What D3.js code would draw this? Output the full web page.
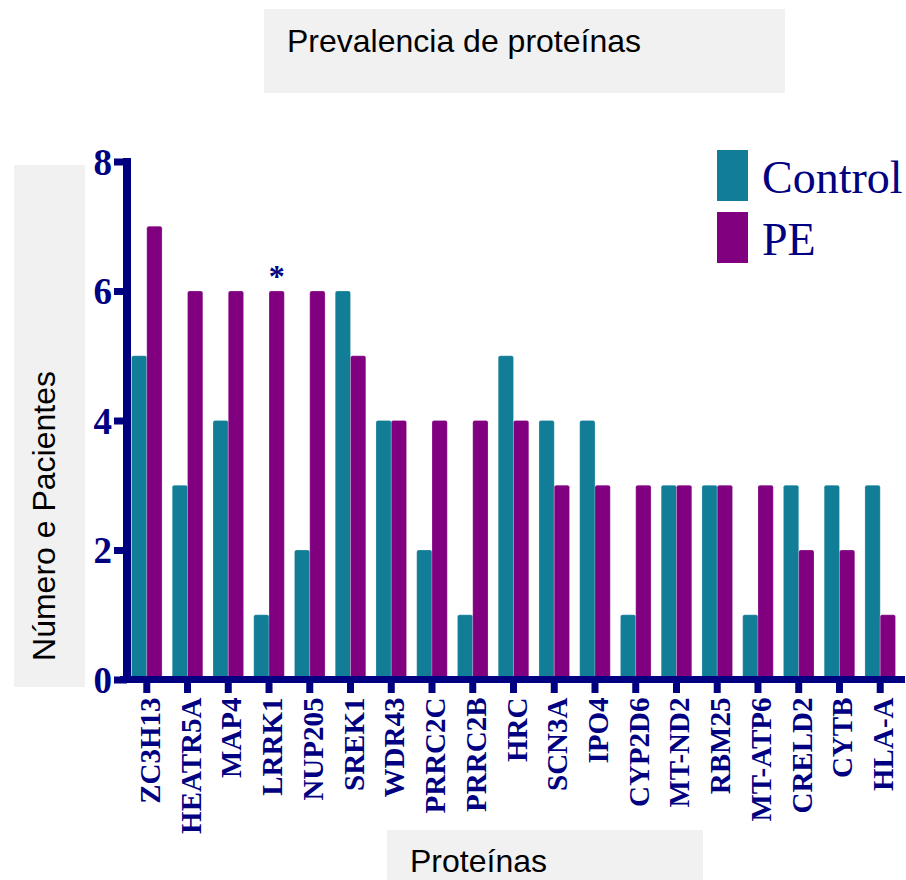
<!DOCTYPE html>
<html>
<head>
<meta charset="utf-8">
<script src="https://cdn.jsdelivr.net/npm/d3@7"></script>
<style>
  body { margin: 0; background: #fff; }
  svg { display: block; }
</style>
</head>
<body>
<div id="chart"></div>
<script>
// datos
const proteinas = ["ZC3H13", "HEATR5A", "MAP4", "LRRK1", "NUP205", "SREK1", "WDR43", "PRRC2C", "PRRC2B", "HRC",
  "SCN3A", "IPO4", "CYP2D6", "MT-ND2", "RBM25", "MT-ATP6", "CRELD2", "CYTB", "HLA-A"];
const control = [5, 3, 4, 1, 2, 6, 4, 2, 1, 5, 4, 4, 1, 3, 3, 1, 3, 3, 3];
const pe = [7, 6, 6, 6, 6, 5, 4, 4, 4, 4, 3, 3, 3, 3, 3, 3, 2, 2, 1];
const grupos = ["Control", "PE"];
const yTicks = [0, 2, 4, 6, 8];
const significativos = ["LRRK1"]; // asterisco sobre PE

const width = 906, height = 880;
const navy = "#000080";
const colores = { Control: "#127d96", PE: "#800080" };
const serif = "'Liberation Serif', 'Times New Roman', serif";
const sans = "'Liberation Sans', Arial, sans-serif";

const svg = d3.select("#chart").append("svg")
  .attr("width", width)
  .attr("height", height);

// escalas
const x = d3.scaleBand().domain(proteinas).range([128, 899]).paddingInner(0.25).paddingOuter(0.086);
const xSub = d3.scaleBand().domain(grupos).range([0, x.bandwidth()]);
const y = d3.scaleLinear().domain([0, 8]).range([679.5, 161.5]);

// cajas de títulos
svg.append("rect").attr("x", 264).attr("y", 9).attr("width", 521).attr("height", 84).attr("fill", "#f1f1f1");
svg.append("text").attr("x", 287).attr("y", 52).text("Prevalencia de proteínas")
  .attr("font-family", sans).attr("font-size", "32px").attr("fill", "#000");

svg.append("rect").attr("x", 14).attr("y", 165).attr("width", 71).attr("height", 522).attr("fill", "#f1f1f1");
svg.append("text")
  .attr("transform", "translate(55, 516) rotate(-90)")
  .attr("text-anchor", "middle")
  .text("Número e Pacientes")
  .attr("font-family", sans).attr("font-size", "32px").attr("fill", "#000");

svg.append("rect").attr("x", 387).attr("y", 830).attr("width", 316).attr("height", 50).attr("fill", "#f1f1f1");
svg.append("text").attr("x", 410).attr("y", 872).text("Proteínas")
  .attr("font-family", sans).attr("font-size", "32px").attr("fill", "#000");

// barras
const grupo = svg.append("g").selectAll("g")
  .data(proteinas.map((p, i) => ({ p, vals: [control[i], pe[i]] })))
  .join("g")
  .attr("transform", (d) => `translate(${x(d.p)},0)`);

grupo.selectAll("rect")
  .data((d) => grupos.map((g, j) => ({ g, v: d.vals[j] })))
  .join("rect")
  .attr("x", (d) => xSub(d.g))
  .attr("width", xSub.bandwidth())
  .attr("y", (d) => y(d.v))
  .attr("height", (d) => y(0) - y(d.v))
  .attr("rx", 2)
  .attr("fill", (d) => colores[d.g])
  .attr("stroke", "#ffffff")
  .attr("stroke-opacity", 0.35)
  .attr("stroke-width", 0.6);

// asterisco
svg.append("g").selectAll("text")
  .data(significativos)
  .join("text")
  .attr("x", (d) => x(d) + xSub("PE") + xSub.bandwidth() / 2)
  .attr("y", (d) => y(pe[proteinas.indexOf(d)]) - 4)
  .attr("text-anchor", "middle")
  .attr("font-family", serif)
  .attr("font-weight", "bold")
  .attr("font-size", "32px")
  .attr("fill", navy)
  .text("*");

// eje Y
const yAxis = svg.append("g")
  .attr("transform", "translate(127,0)")
  .call(d3.axisLeft(y).tickValues(yTicks).tickFormat(d3.format("d")).tickSize(13).tickPadding(2).tickSizeOuter(0));
yAxis.select(".domain").remove();
yAxis.append("line")
  .attr("x1", 0).attr("x2", 0)
  .attr("y1", y(8) - 3.5).attr("y2", y(0) + 3.5)
  .attr("stroke", navy).attr("stroke-width", 8);
yAxis.selectAll(".tick line").attr("stroke", navy).attr("stroke-width", 7);
yAxis.selectAll(".tick text")
  .attr("fill", navy)
  .attr("font-family", serif)
  .attr("font-weight", "bold")
  .attr("font-size", "37px")
  .attr("dy", "0.34em");

// eje X
const xAxis = svg.append("g")
  .attr("transform", `translate(0,${y(0)})`)
  .call(d3.axisBottom(x).tickSize(13.5).tickSizeOuter(0));
xAxis.select(".domain").remove();
xAxis.append("line")
  .attr("x1", 120).attr("x2", 905)
  .attr("y1", 0).attr("y2", 0)
  .attr("stroke", navy).attr("stroke-width", 7);
xAxis.selectAll(".tick line").attr("stroke", navy).attr("stroke-width", 7);
xAxis.selectAll(".tick text")
  .attr("fill", navy)
  .attr("font-family", serif)
  .attr("font-weight", "bold")
  .attr("font-size", "29px")
  .attr("text-anchor", "end")
  .attr("y", 0)
  .attr("dy", 0)
  .attr("transform", "translate(13, 18) rotate(-90)");

// leyenda
const leyenda = svg.append("g").selectAll("g")
  .data(grupos)
  .join("g")
  .attr("transform", (d, i) => `translate(717,${150 + i * 62})`);
leyenda.append("rect")
  .attr("width", 31).attr("height", 51)
  .attr("fill", (d) => colores[d]);
leyenda.append("text")
  .attr("x", 45).attr("y", 43)
  .attr("font-family", serif)
  .attr("font-size", "46px")
  .attr("fill", navy)
  .text((d) => d);
</script>
</body>
</html>
